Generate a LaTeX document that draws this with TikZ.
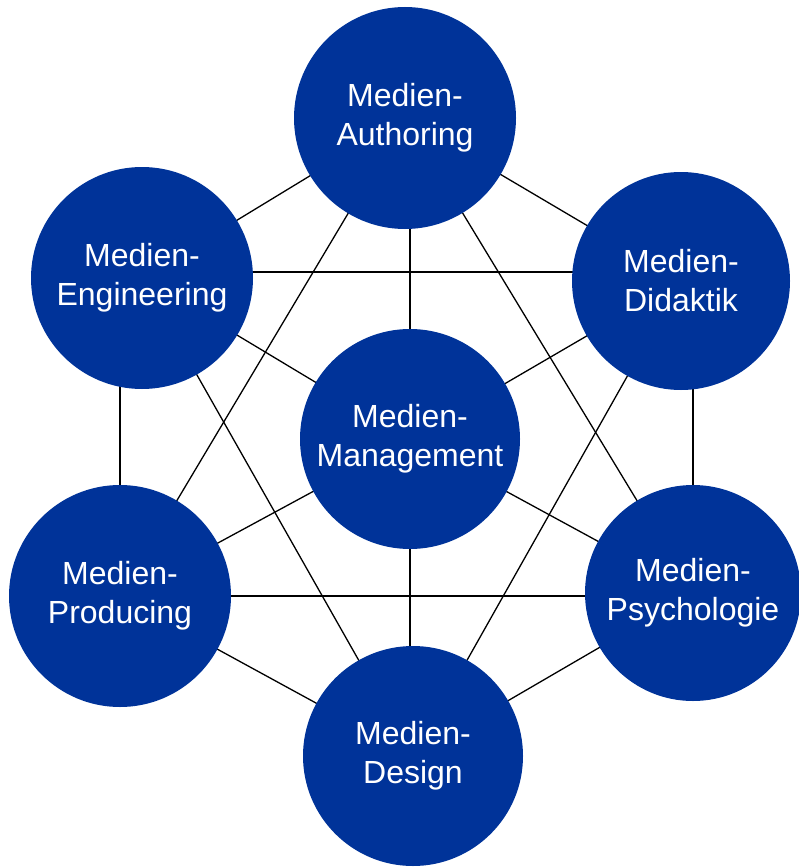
\documentclass[tikz,border=0pt]{standalone}
\usepackage{fontspec}
\setmainfont{Liberation Sans}
\definecolor{mblue}{RGB}{0,51,153}
\begin{document}
\begin{tikzpicture}[x=1pt,y=-1pt,
  topic/.style={circle,fill=mblue,draw=none,inner sep=0pt,minimum size=#1,
    text=white,align=center,font=\fontsize{32}{39}\selectfont},
  link/.style={draw=black,line width=1.3pt}]
\useasboundingbox (0,0) rectangle (799,867);
% positions
\coordinate (pauth) at (405,118);
\coordinate (peng) at (142,278);
\coordinate (pdid) at (681,281);
\coordinate (pmgmt) at (410,439);
\coordinate (pprod) at (120,596);
\coordinate (ppsy) at (693,593);
\coordinate (pdes) at (413,756);
\coordinate (hline) at (0,272);
% connectors (behind)
\draw[link] (pauth) -- (peng);
\draw[link] (pauth) -- (pdid);
\draw[link] (pmgmt |- pauth) -- (pmgmt);
\draw[link] (pauth) -- (pprod);
\draw[link] (pauth) -- (ppsy);
\draw[link] (peng |- hline) -- (pdid |- hline);
\draw[link] (peng) -- (pmgmt);
\draw[link] (pprod |- peng) -- (pprod);
\draw[link] (peng) -- (pdes);
\draw[link] (pdid) -- (pmgmt);
\draw[link] (ppsy |- pdid) -- (ppsy);
\draw[link] (pdid) -- (pdes);
\draw[link] (pmgmt) -- (pprod);
\draw[link] (pmgmt) -- (ppsy);
\draw[link] (pmgmt) -- (pmgmt |- pdes);
\draw[link] (pprod) -- (ppsy |- pprod);
\draw[link] (pprod) -- (pdes);
\draw[link] (ppsy) -- (pdes);
% circles
\node[topic=222pt] (auth) at (pauth) {Medien-\\Authoring};
\node[topic=222pt] (eng) at (peng) {Medien-\\Engineering};
\node[topic=218pt] (did) at (pdid) {Medien-\\Didaktik};
\node[topic=220pt] (mgmt) at (pmgmt) {Medien-\\Management};
\node[topic=222pt] (prod) at (pprod) {Medien-\\Producing};
\node[topic=216pt] (psy) at (ppsy) {Medien-\\Psychologie};
\node[topic=220pt] (des) at (pdes) {Medien-\\Design};
\end{tikzpicture}
\end{document}
